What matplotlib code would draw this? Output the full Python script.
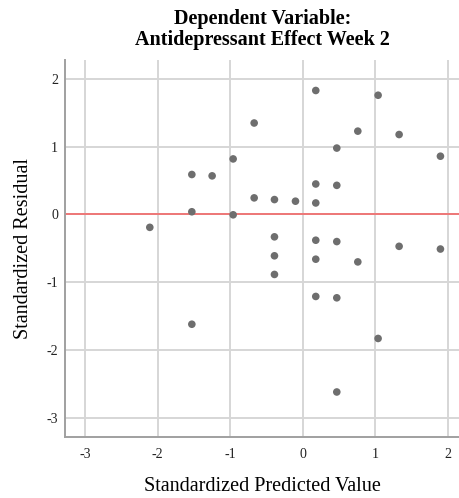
import matplotlib
matplotlib.use("Agg")
import matplotlib.pyplot as plt

pred = [0.18, 1.04, -0.67, 0.76, 1.33, 0.47, 1.90, -0.96, -1.53, -1.25,
        0.18, 0.47, -0.67, -0.39, -0.10, 0.18, -1.53, -0.96, -2.11, -0.39,
        0.18, 0.47, 1.33, 1.90, -0.39, 0.18, 0.76, -0.39, 0.18, 0.47,
        -1.53, 1.04, 0.47]
resid = [1.83, 1.76, 1.35, 1.23, 1.18, 0.98, 0.86, 0.82, 0.59, 0.57,
         0.45, 0.43, 0.245, 0.22, 0.196, 0.17, 0.04, -0.005, -0.19, -0.33,
         -0.38, -0.40, -0.47, -0.51, -0.61, -0.66, -0.70, -0.885, -1.21, -1.23,
         -1.62, -1.83, -2.62]
xticks = [-3, -2, -1, 0, 1, 2]
yticks = [-3, -2, -1, 0, 1, 2]

plt.rcParams['font.family'] = ['Liberation Serif', 'DejaVu Serif']
plt.rcParams['axes.unicode_minus'] = False

fig = plt.figure(figsize=(4.6, 4.98), dpi=100)
ax = fig.add_axes([65/460, (498-436.7)/498, (460-65)/460, (436.7-60)/498])

ax.set_xlim(-3.28, 2.17)
ax.set_ylim(-3.28, 2.28)
ax.set_xticks(xticks)
ax.set_yticks(yticks)
ax.tick_params(length=0, labelsize=10, colors='#222222')
ax.tick_params(axis='x', pad=8)
ax.tick_params(axis='y', pad=5)
ax.grid(True, color='#d6d6d6', linewidth=1.4)
ax.set_axisbelow(True)
for s in ['top', 'right']:
    ax.spines[s].set_visible(False)
for s in ['left', 'bottom']:
    ax.spines[s].set_color('#a0a0a0')
    ax.spines[s].set_linewidth(1.4)

ax.axhline(0, color='#ee7777', linewidth=1.4, zorder=2)
ax.scatter(pred, resid, s=30, color='#6e6e6e', edgecolors='none', zorder=3)

ax.set_xlabel('Standardized Predicted Value', fontsize=14.5, labelpad=12)
ax.set_ylabel('Standardized Residual', fontsize=14.5, labelpad=10)
ax.set_title('Dependent Variable:\nAntidepressant Effect Week 2',
             fontsize=14.5, fontweight='bold', pad=11, linespacing=1.05)

fig.savefig('out.png', dpi=100)
